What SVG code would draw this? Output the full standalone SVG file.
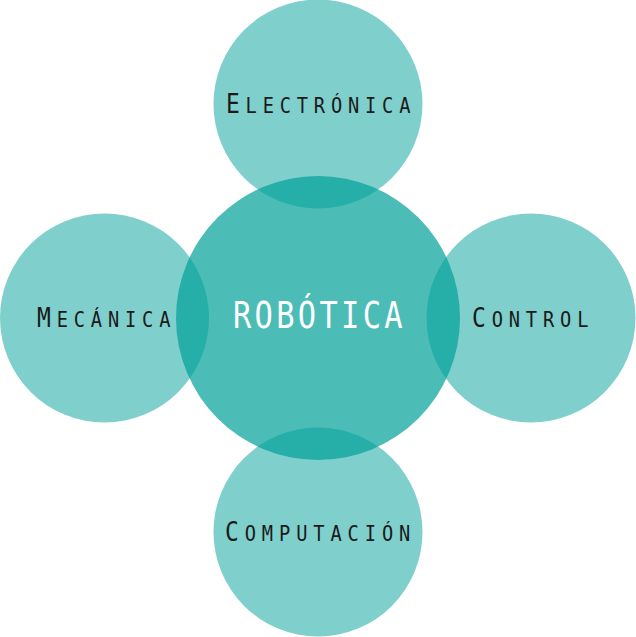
<svg xmlns="http://www.w3.org/2000/svg" width="636" height="637" viewBox="0 0 636 637">
<style>
.outer{fill:#00a099;fill-opacity:0.5}
.core{fill:#00a099;fill-opacity:0.7}
.lbl{font-family:"DejaVu Sans Mono","Liberation Mono",monospace;font-size:27px;fill:#1a1a1a}
.sc{font-size:22px;text-transform:uppercase}
.main{font-family:"DejaVu Sans Mono","Liberation Mono",monospace;font-size:38px;fill:#ffffff}
</style>
<rect width="636" height="637" fill="#ffffff"/>
<g id="electronica"><circle class="outer" cx="318" cy="104" r="104.5"/></g>
<g id="mecanica"><circle class="outer" cx="104.5" cy="318" r="104.5"/></g>
<g id="control"><circle class="outer" cx="531" cy="318" r="104.5"/></g>
<g id="computacion"><circle class="outer" cx="318" cy="532" r="104.5"/></g>
<g id="robotica"><circle class="core" cx="318" cy="318" r="142"/>
<text class="main" transform="translate(233,328) scale(0.8,1)" x="0" y="0" textLength="212" lengthAdjust="spacing">ROBÓTICA</text></g>
<g id="labels">
<text class="lbl" transform="translate(226,113) scale(0.85,1)" textLength="217" lengthAdjust="spacing">E<tspan class="sc">lectrónica</tspan></text>
<text class="lbl" transform="translate(37,327) scale(0.85,1)" textLength="157" lengthAdjust="spacing">M<tspan class="sc">ecánica</tspan></text>
<text class="lbl" transform="translate(472,327) scale(0.85,1)" textLength="137" lengthAdjust="spacing">C<tspan class="sc">ontrol</tspan></text>
<text class="lbl" transform="translate(225,541) scale(0.85,1)" textLength="218" lengthAdjust="spacing">C<tspan class="sc">omputación</tspan></text>
</g>
<g id="connectors"></g>
</svg>
